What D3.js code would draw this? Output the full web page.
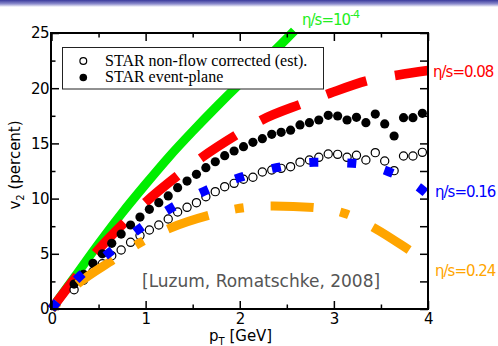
<!DOCTYPE html>
<html>
<head>
<meta charset="utf-8">
<script src="https://cdn.jsdelivr.net/npm/d3@7"></script>
<style>
  html, body { margin: 0; padding: 0; background: #fff; }
  svg { display: block; }
</style>
</head>
<body>
<svg id="chart" width="498" height="346"></svg>
<script>
// STAR v2 measurements (percent) vs pT (GeV)
const pT = [0.24, 0.34, 0.44, 0.54, 0.64, 0.74, 0.84, 0.94, 1.04, 1.14,
            1.24, 1.34, 1.44, 1.54, 1.64, 1.74, 1.84, 1.94, 2.04, 2.14,
            2.24, 2.34, 2.44, 2.54, 2.64, 2.74, 2.84, 2.94, 3.04, 3.14,
            3.24, 3.34, 3.44, 3.54, 3.64, 3.74, 3.84, 3.94];
const starEventPlane = [2.26, 3.14, 4.14, 5.0, 5.95, 6.79, 7.61, 8.33, 9.03, 9.63,
                        10.24, 10.99, 11.59, 12.2, 12.8, 13.34, 13.89, 14.31, 14.7, 15.1,
                        15.43, 15.82, 16.0, 16.2, 16.67, 16.88, 17.12, 17.54, 17.48, 17.12,
                        17.36, 16.88, 17.66, 16.76, 15.67, 17.33, 17.33, 17.72];
const starNonFlow = [1.75, 2.6, 3.4, 4.1, 4.83, 5.34, 6.04, 6.65, 7.16, 7.61,
                     8.15, 8.79, 9.21, 9.63, 10.17, 10.63, 11.08, 11.38, 11.75, 11.93,
                     12.41, 12.59, 12.74, 12.89, 13.3, 13.5, 13.74, 14.04, 14.01, 13.74,
                     13.92, 13.5, 14.16, 13.41, 12.53, 13.86, 13.86, 14.19];

// viscous hydro curves: [pT, v2]
const hydroIdeal = [[0,0],[0.25,2.95],[0.5,5.9],[0.75,8.7],[1.0,11.3],[1.25,13.8],
                    [1.5,16.1],[1.75,18.3],[2.0,20.4],[2.25,22.4],[2.5,24.5],[2.58,25.2]];
const hydro008 = [[0,0],[0.263,2.93],[0.476,5.15],[0.777,7.85],[1.007,9.72],[1.344,12.1],
                  [1.593,13.7],[2.0,15.95],[2.23,17.1],[2.673,18.63],[2.957,19.54],
                  [3.383,20.74],[3.684,21.2],[4.0,21.6]];
const hydro016 = [[0,0],[0.29,2.87],[0.606,5.05],[0.926,7.22],[1.266,9.12],[1.628,10.69],
                  [2.007,11.93],[2.39,12.8],[2.79,13.29],[3.2,13.2],[3.59,12.41],
                  [3.94,10.78],[4.0,10.35]];
const hydro024 = [[0,0],[0.263,2.17],[0.652,4.44],[0.945,6.02],[1.255,7.31],[1.68,8.51],
                  [2.0,9.12],[2.354,9.33],[2.8,9.18],[3.135,8.6],[3.436,7.31],
                  [3.826,5.19],[4.0,4.2]];

const xMajor = [0, 1, 2, 3, 4];
const xMinor = [0.5, 1.5, 2.5, 3.5];
const yMajor = [0, 5, 10, 15, 20, 25];
const yMinor = [2.5, 7.5, 12.5, 17.5, 22.5];

const svg = d3.select("#chart");
const x = d3.scaleLinear().domain([0, 4]).range([51.5, 428]);
const y = d3.scaleLinear().domain([0, 25]).range([309, 33]);

// header band
const defs = svg.append("defs");
const grad = defs.append("linearGradient").attr("id", "band")
  .attr("x1", 0).attr("y1", 0).attr("x2", 0).attr("y2", 1);
grad.append("stop").attr("offset", "0%").attr("stop-color", "#3a3a9c");
grad.append("stop").attr("offset", "55%").attr("stop-color", "#8c8ccc");
grad.append("stop").attr("offset", "100%").attr("stop-color", "#ffffff");
svg.append("rect").attr("x", 0).attr("y", 0).attr("width", 498).attr("height", 7)
  .attr("fill", "url(#band)");

const line = d3.line().x(d => x(d[0])).y(d => y(d[1])).curve(d3.curveMonotoneX);

// theory curves
svg.append("path").datum(hydroIdeal).attr("d", line)
  .attr("fill", "none").attr("stroke", "#00ee00").attr("stroke-width", 9);
svg.append("path").datum(hydro008).attr("d", line)
  .attr("fill", "none").attr("stroke", "#ff0000").attr("stroke-width", 9.5)
  .attr("stroke-dasharray", "42,29");

// data
const pts = pT.map((p, i) => ({p, ep: starEventPlane[i], nf: starNonFlow[i]}));
svg.append("g").selectAll("circle").data(pts).join("circle")
  .attr("cx", d => x(d.p)).attr("cy", d => y(d.nf)).attr("r", 4.1)
  .attr("fill", "#fff").attr("stroke", "#000").attr("stroke-width", 1.2);
svg.append("g").selectAll("circle").data(pts).join("circle")
  .attr("cx", d => x(d.p)).attr("cy", d => y(d.ep)).attr("r", 4.6)
  .attr("fill", "#000");

svg.append("path").datum(hydro024).attr("d", line)
  .attr("fill", "none").attr("stroke", "#ffa500").attr("stroke-width", 9)
  .attr("stroke-dasharray", "9,27,43,27");
svg.append("path").datum(hydro016).attr("d", line)
  .attr("fill", "none").attr("stroke", "#0000ff").attr("stroke-width", 9)
  .attr("stroke-dasharray", "9,29");

// frame and ticks
const tickFont = "DejaVu Sans, Verdana, sans-serif";
function styleAxis(g) {
  g.select(".domain").remove();
  g.selectAll(".tick line").attr("stroke", "#000").attr("stroke-width", 1.5);
  g.selectAll(".tick text").attr("font-family", tickFont).attr("font-size", 15)
    .attr("letter-spacing", "-0.5px").attr("fill", "#000");
}
svg.append("g").attr("transform", "translate(0,309)")
  .call(d3.axisBottom(x).tickValues(xMajor).tickFormat(d3.format("d")).tickSize(-8).tickPadding(4))
  .call(styleAxis);
svg.append("g").attr("transform", "translate(0,309)")
  .call(d3.axisBottom(x).tickValues(xMinor).tickFormat("").tickSize(-4.5))
  .call(styleAxis);
svg.append("g").attr("transform", "translate(0,33)")
  .call(d3.axisTop(x).tickValues(xMajor).tickFormat("").tickSize(-8))
  .call(styleAxis);
svg.append("g").attr("transform", "translate(0,33)")
  .call(d3.axisTop(x).tickValues(xMinor).tickFormat("").tickSize(-4.5))
  .call(styleAxis);
svg.append("g").attr("transform", "translate(51,0)")
  .call(d3.axisLeft(y).tickValues(yMajor).tickFormat(d3.format("d")).tickSize(-8).tickPadding(2))
  .call(styleAxis);
svg.append("g").attr("transform", "translate(51,0)")
  .call(d3.axisLeft(y).tickValues(yMinor).tickFormat("").tickSize(-4.5))
  .call(styleAxis);
svg.append("g").attr("transform", "translate(428,0)")
  .call(d3.axisRight(y).tickValues(yMajor.concat(yMinor)).tickFormat("").tickSize(-8))
  .call(styleAxis);
svg.append("rect").attr("x", 51).attr("y", 33).attr("width", 377).attr("height", 276)
  .attr("fill", "none").attr("stroke", "#000").attr("stroke-width", 2);

// axis titles
const xt = svg.append("text").attr("x", 209).attr("y", 341)
  .attr("font-family", tickFont).attr("font-size", 15).attr("fill", "#000");
xt.append("tspan").text("p");
xt.append("tspan").attr("dy", 4).attr("font-size", 10).text("T");
xt.append("tspan").attr("dy", -4).text(" [GeV]");

const yt = svg.append("text").attr("transform", "translate(20,165) rotate(-90)")
  .attr("text-anchor", "middle")
  .attr("font-family", tickFont).attr("font-size", 15).attr("fill", "#000");
yt.append("tspan").text("v");
yt.append("tspan").attr("dy", 4).attr("font-size", 10).text("2");
yt.append("tspan").attr("dy", -4).text(" (percent)");

// legend
const lg = svg.append("g");
lg.append("rect").attr("x", 62.5).attr("y", 47.5).attr("width", 261).attr("height", 41.5)
  .attr("fill", "#fff").attr("stroke", "#222").attr("stroke-width", 1);
lg.append("circle").attr("cx", 83.3).attr("cy", 61).attr("r", 3.4)
  .attr("fill", "#fff").attr("stroke", "#000").attr("stroke-width", 1.2);
lg.append("circle").attr("cx", 83.3).attr("cy", 77.5).attr("r", 3.8).attr("fill", "#000");
const legendFont = "Liberation Serif, Times New Roman, serif";
lg.append("text").attr("x", 105).attr("y", 65.5).attr("font-family", legendFont)
  .attr("font-size", 16).attr("fill", "#000").text("STAR non-flow corrected (est).");
lg.append("text").attr("x", 105).attr("y", 82).attr("font-family", legendFont)
  .attr("font-size", 16).attr("fill", "#000").text("STAR event-plane");

// citation
svg.append("text").attr("x", 142).attr("y", 286.5)
  .attr("font-family", tickFont).attr("font-size", 17).attr("fill", "#555")
  .text("[Luzum, Romatschke, 2008]");

// curve labels
function label(xp, yp, color, main, sup) {
  const t = svg.append("text").attr("x", xp).attr("y", yp)
    .attr("font-family", tickFont).attr("font-size", 15).attr("letter-spacing", "-1px")
    .attr("fill", color);
  t.append("tspan").text(main);
  if (sup) t.append("tspan").attr("dy", -7).attr("font-size", 11).text(sup);
}
label(302, 25, "#22ee22", "η/s=10", "-4");
label(433, 76.5, "#ff0000", "η/s=0.08");
label(435, 196.5, "#0000ff", "η/s=0.16");
label(435, 275.5, "#ffa500", "η/s=0.24");
</script>
</body>
</html>
